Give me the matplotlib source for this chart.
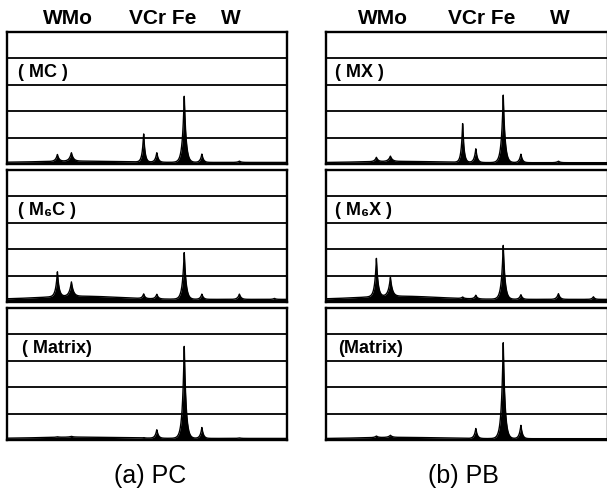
import numpy as np
import matplotlib
matplotlib.use("Agg")
import matplotlib.pyplot as plt

# X-ray lines (positions read from the peaks, keV scale 0-10)
line_names = ["W M", "Mo L", "V K", "Cr K", "Fe Ka", "Fe Kb", "W La", "W Lb"]
line_energy = [1.80, 2.30, 4.88, 5.35, 6.33, 6.96, 8.30, 9.55]
line_width = [0.06, 0.07, 0.05, 0.055, 0.065, 0.055, 0.06, 0.05]

# peak heights (in grid-band units, 5 bands per panel)
pc_mc = [0.26, 0.32, 1.10, 0.37, 2.55, 0.32, 0.05, 0.00]
pc_m6c = [0.95, 0.55, 0.18, 0.18, 1.80, 0.20, 0.20, 0.04]
pc_matrix = [0.02, 0.03, 0.02, 0.33, 3.55, 0.42, 0.02, 0.00]
pb_mx = [0.16, 0.20, 1.48, 0.52, 2.57, 0.33, 0.06, 0.00]
pb_m6x = [1.45, 0.72, 0.06, 0.14, 2.05, 0.18, 0.22, 0.10]
pb_matrix = [0.06, 0.08, 0.00, 0.38, 3.65, 0.52, 0.00, 0.00]

# continuum: (floor, hump) per spectrum
bg_pc = [(0.06, 0.05), (0.10, 0.12), (0.06, 0.05)]
bg_pb = [(0.05, 0.05), (0.10, 0.12), (0.05, 0.05)]

phase_pc = ["( MC )", "( M\u2086C )", "( Matrix)"]
phase_pb = ["( MX )", "( M\u2086X )", "(Matrix)"]

top_pc = [("WMo", 68), ("VCr Fe", 163), ("W", 231)]
top_pb = [("WMo", 383), ("VCr Fe", 482), ("W", 560)]

W, H = 607, 488
fig = plt.figure(figsize=(W / 100, H / 100), dpi=100)
plt.rcParams['font.family'] = ['Liberation Sans', 'DejaVu Sans']

panel_tops = [32, 170, 308]
panel_h = 132


def spectrum(ax, heights, bg, xmax):
    x = np.linspace(0, xmax, 3000)
    y = bg[0] + bg[1] * np.exp(-((x - 2.6) / 2.0) ** 2)
    for e, w, h in zip(line_energy, line_width, heights):
        y = y + h * np.exp(-np.abs(x - e) / w)
    ax.fill_between(x, 0, y, color='black', lw=0)
    ax.plot(x, y, color='black', lw=1.0)
    for g in [1, 2, 3, 4]:
        ax.axhline(g, color='black', lw=1.3, zorder=0)
    ax.set_xlim(0, xmax)
    ax.set_ylim(0, 5)
    ax.set_xticks([])
    ax.set_yticks([])
    for s in ax.spines.values():
        s.set_linewidth(1.7)
        s.set_color('black')


columns = [
    (7, 280, [pc_mc, pc_m6c, pc_matrix], bg_pc, phase_pc, [0.40, 0.38, 0.55]),
    (326, 282, [pb_mx, pb_m6x, pb_matrix], bg_pb, phase_pb, [0.32, 0.32, 0.43]),
]

for left, width, specs, bgs, names, lx in columns:
    xmax = 10.0 * width / 280
    for i in range(3):
        top = panel_tops[i]
        ax = fig.add_axes([left / W, 1 - (top + panel_h) / H, width / W, panel_h / H])
        spectrum(ax, specs[i], bgs[i], xmax)
        ax.text(lx[i], 3.45, names[i], fontsize=13, fontweight='bold',
                va='center', ha='left')

for txt, xc in top_pc + top_pb:
    fig.text(xc / W, 1 - 19 / H, txt, fontsize=15, fontweight='bold',
             ha='center', va='center')

fig.text(150 / W, 1 - 476 / H, "(a) PC", fontsize=18, ha='center', va='center')
fig.text(463 / W, 1 - 476 / H, "(b) PB", fontsize=18, ha='center', va='center')

fig.savefig("out.png", dpi=100)
